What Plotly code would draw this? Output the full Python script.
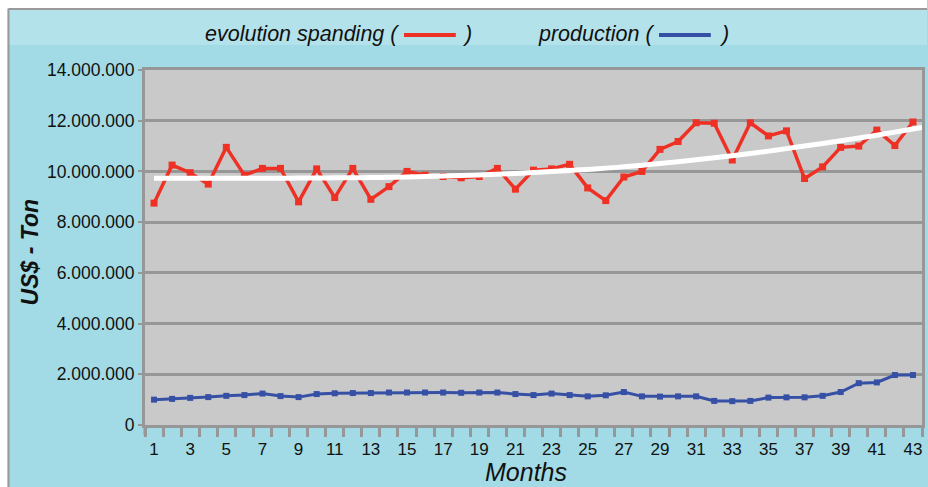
import plotly.graph_objects as go

# Monthly series (millions)
months = list(range(1, 44))
spending = [8.75, 10.25, 9.95, 9.5, 10.95, 9.85, 10.12, 10.12, 8.8, 10.1,
            8.97, 10.12, 8.9, 9.4, 10.0, 9.85, 9.8, 9.75, 9.8, 10.12,
            9.3, 10.05, 10.1, 10.28, 9.35, 8.85, 9.78, 10.0, 10.87, 11.18,
            11.92, 11.9, 10.45, 11.92, 11.4, 11.6, 9.72, 10.18, 10.95, 11.0,
            11.63, 11.02, 11.95]
production = [1.00, 1.03, 1.07, 1.10, 1.15, 1.18, 1.24, 1.14, 1.10, 1.22,
              1.25, 1.26, 1.26, 1.28, 1.28, 1.28, 1.28, 1.27, 1.28, 1.28,
              1.22, 1.18, 1.24, 1.18, 1.13, 1.17, 1.30, 1.13, 1.12, 1.13,
              1.13, 0.95, 0.94, 0.95, 1.08, 1.09, 1.09, 1.15, 1.30, 1.65,
              1.68, 1.97, 1.97]
# Spending trend line
trend_months = months + [43.5]
trend = [9.73, 9.73, 9.73, 9.73, 9.73, 9.73, 9.73, 9.73, 9.74, 9.74,
         9.75, 9.75, 9.76, 9.77, 9.78, 9.80, 9.82, 9.84, 9.86, 9.89,
         9.92, 9.96, 10.0, 10.04, 10.08, 10.13, 10.18, 10.24, 10.31, 10.38,
         10.46, 10.54, 10.62, 10.71, 10.80, 10.90, 11.00, 11.10, 11.21, 11.32,
         11.43, 11.55, 11.67, 11.73]

spending = [v * 1e6 for v in spending]
production = [v * 1e6 for v in production]
trend = [v * 1e6 for v in trend]
odd_months = months[::2]

RED = "#ee3124"
BLUE = "#3550a5"
BG = "#a2dbe5"
BAND = "#b4e2ea"
GRID = "#979797"
FONT = "Liberation Sans"

W, H = 928, 487
L, R, T, B = 145, 925, 70, 425


def px(x):
    return (x - L) / (R - L)


def py(y):
    return (B - y) / (B - T)


fig = go.Figure()
fig.add_trace(go.Scatter(x=months, y=spending, mode="lines+markers",
                         line=dict(color=RED, width=3.5),
                         marker=dict(symbol="square", size=7, color=RED),
                         hoverinfo="skip"))
fig.add_trace(go.Scatter(x=months, y=production, mode="lines+markers",
                         line=dict(color=BLUE, width=3),
                         marker=dict(symbol="square", size=6, color=BLUE),
                         hoverinfo="skip"))
fig.add_trace(go.Scatter(x=trend_months, y=trend, mode="lines",
                         line=dict(color="white", width=5, shape="spline"),
                         hoverinfo="skip"))

shapes = [
    # light band behind the legend
    dict(type="rect", xref="paper", yref="paper", x0=px(8), x1=px(930),
         y0=py(9), y1=py(45), fillcolor=BAND, line=dict(width=0), layer="below"),
    # white frame at the left and top
    dict(type="rect", xref="paper", yref="paper", x0=px(-2), x1=px(930),
         y0=py(-2), y1=py(8), fillcolor="white", line=dict(width=0)),
    dict(type="rect", xref="paper", yref="paper", x0=px(-2), x1=px(7),
         y0=py(-2), y1=py(490), fillcolor="white", line=dict(width=0)),
    dict(type="line", xref="paper", yref="paper", x0=px(8), x1=px(930),
         y0=py(9), y1=py(9), line=dict(color="#9a9a9a", width=2)),
    dict(type="line", xref="paper", yref="paper", x0=px(8), x1=px(8),
         y0=py(9), y1=py(490), line=dict(color="#9a9a9a", width=2)),
    # legend keys
    dict(type="line", xref="paper", yref="paper", x0=px(405), x1=px(457),
         y0=py(35), y1=py(35), line=dict(color=RED, width=4)),
    dict(type="line", xref="paper", yref="paper", x0=px(661), x1=px(713),
         y0=py(35), y1=py(35), line=dict(color=BLUE, width=4)),
    # left axis runs down through the tick band
    dict(type="line", xref="paper", yref="paper", x0=px(145), x1=px(145),
         y0=py(425), y1=py(435), line=dict(color=GRID, width=3)),
]

lab_font = dict(family=FONT, size=21.5, color="#111", style="italic")
annotations = [
    dict(text="evolution spanding (", x=px(402), y=py(34), xref="paper", yref="paper",
         xanchor="right", yanchor="middle", showarrow=False, font=lab_font),
    dict(text=")", x=px(461), y=py(34), xref="paper", yref="paper",
         xanchor="left", yanchor="middle", showarrow=False, font=lab_font),
    dict(text="production (", x=px(658), y=py(34), xref="paper", yref="paper",
         xanchor="right", yanchor="middle", showarrow=False, font=lab_font),
    dict(text=")", x=px(719), y=py(34), xref="paper", yref="paper",
         xanchor="left", yanchor="middle", showarrow=False, font=lab_font),
    dict(text="US$ - Ton", x=px(30), y=py(252), xref="paper", yref="paper",
         textangle=-90, xanchor="center", yanchor="middle", showarrow=False,
         font=dict(family=FONT, size=23, color="#111", style="italic", weight="bold")),
    dict(text="Months", x=px(527), y=py(472), xref="paper", yref="paper",
         xanchor="center", yanchor="middle", showarrow=False,
         font=dict(family=FONT, size=25, color="#111", style="italic")),
]

fig.update_layout(
    width=W, height=H,
    margin=dict(l=L, r=W - R, t=T, b=H - B, pad=0),
    paper_bgcolor=BG, plot_bgcolor="#c9c9c9",
    showlegend=False,
    separators=",.",
    shapes=shapes, annotations=annotations,
    font=dict(family=FONT, size=16, color="#111"),
)
fig.update_xaxes(
    range=[0.5, 43.5], tickmode="array", tickvals=odd_months,
    ticktext=[str(m) for m in odd_months],
    ticks="outside", ticklen=7, tickcolor="rgba(0,0,0,0)",
    tickfont=dict(family=FONT, size=17, color="#111"),
    minor=dict(tick0=0.5, dtick=1, ticks="outside", ticklen=9, tickwidth=3,
               tickcolor=GRID, showgrid=False),
    showgrid=False, zeroline=False,
    showline=True, linecolor=GRID, linewidth=3, mirror=True,
)
fig.update_yaxes(
    range=[0, 14e6], dtick=2e6, tickformat=",",
    ticks="outside", ticklen=4, tickwidth=2, tickcolor=GRID,
    tickfont=dict(family=FONT, size=17.5, color="#111"),
    showgrid=True, gridcolor=GRID, gridwidth=3, zeroline=False,
    showline=True, linecolor=GRID, linewidth=3, mirror=True,
)

fig.write_html("out.html")
